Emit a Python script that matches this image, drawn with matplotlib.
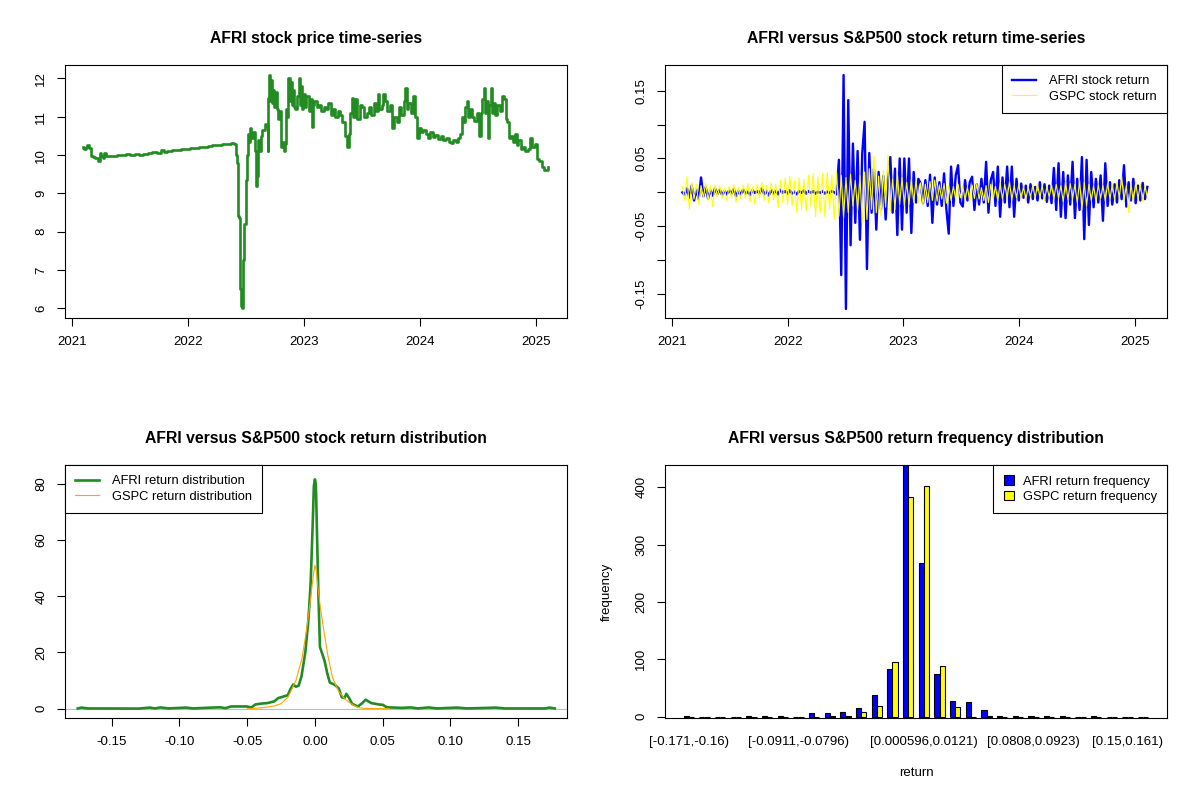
import numpy as np
import matplotlib
matplotlib.use("Agg")
import matplotlib.pyplot as plt

plt.rcParams['font.family'] = ['Liberation Sans', 'DejaVu Sans']

# AFRI closing price (decimal year, price)
price_t = [2021.09, 2021.10, 2021.11, 2021.12, 2021.14, 2021.15, 2021.17, 2021.19, 2021.21, 2021.23,
           2021.24, 2021.26, 2021.27, 2021.28, 2021.30, 2021.33, 2021.37, 2021.41, 2021.44, 2021.48,
           2021.52, 2021.56, 2021.59, 2021.63, 2021.67, 2021.71, 2021.75, 2021.78, 2021.80, 2021.84,
           2021.88, 2021.92, 2021.96, 2022.00, 2022.04, 2022.08, 2022.11, 2022.15, 2022.19, 2022.23,
           2022.27, 2022.31, 2022.35, 2022.39, 2022.41, 2022.42, 2022.425, 2022.43, 2022.44, 2022.45,
           2022.46, 2022.47, 2022.48, 2022.49, 2022.50, 2022.51, 2022.52, 2022.53, 2022.54, 2022.55,
           2022.57, 2022.58, 2022.59, 2022.60, 2022.61, 2022.62, 2022.63, 2022.65, 2022.67, 2022.68,
           2022.69, 2022.695, 2022.70, 2022.71, 2022.72, 2022.73, 2022.74, 2022.75, 2022.76, 2022.77,
           2022.78, 2022.79, 2022.80, 2022.81, 2022.82, 2022.83, 2022.84, 2022.85, 2022.86, 2022.87,
           2022.88, 2022.89, 2022.90, 2022.91, 2022.92, 2022.93, 2022.95, 2022.96, 2022.97, 2022.98,
           2022.99, 2023.00, 2023.01, 2023.03, 2023.05, 2023.06, 2023.07, 2023.08, 2023.10, 2023.12,
           2023.14, 2023.16, 2023.18, 2023.20, 2023.22, 2023.24, 2023.26, 2023.28, 2023.30, 2023.32,
           2023.34, 2023.36, 2023.38, 2023.39, 2023.40, 2023.42, 2023.43, 2023.45, 2023.47, 2023.49,
           2023.51, 2023.53, 2023.55, 2023.57, 2023.59, 2023.61, 2023.63, 2023.64, 2023.66, 2023.68,
           2023.69, 2023.71, 2023.73, 2023.75, 2023.77, 2023.79, 2023.81, 2023.83, 2023.85, 2023.87,
           2023.88, 2023.89, 2023.91, 2023.93, 2023.95, 2023.97, 2023.98, 2024.00, 2024.02, 2024.04,
           2024.06, 2024.08, 2024.10, 2024.12, 2024.14, 2024.17, 2024.19, 2024.21, 2024.24, 2024.26,
           2024.28, 2024.30, 2024.32, 2024.34, 2024.36, 2024.37, 2024.38, 2024.40, 2024.41, 2024.42,
           2024.44, 2024.46, 2024.48, 2024.50, 2024.52, 2024.53, 2024.55, 2024.56, 2024.57, 2024.58,
           2024.59, 2024.60, 2024.62, 2024.63, 2024.64, 2024.66, 2024.68, 2024.70, 2024.72, 2024.73,
           2024.75, 2024.76, 2024.78, 2024.79, 2024.81, 2024.83, 2024.84, 2024.86, 2024.88, 2024.90,
           2024.92, 2024.94, 2024.96, 2024.98, 2025.00, 2025.02, 2025.04, 2025.06, 2025.08, 2025.10,
           2025.11]
price_v = [10.22, 10.18, 10.15, 10.22, 10.25, 10.18, 9.97, 9.95, 9.93, 9.85,
           10.05, 9.98, 9.93, 10.05, 9.98, 9.97, 9.98, 10.00, 9.99, 10.02,
           10.00, 10.03, 10.01, 10.04, 10.05, 10.07, 10.06, 10.12, 10.09, 10.11,
           10.12, 10.14, 10.15, 10.16, 10.18, 10.19, 10.21, 10.22, 10.24, 10.25,
           10.26, 10.29, 10.30, 10.31, 10.30, 10.00, 9.80, 8.40, 8.35, 6.50,
           6.05, 6.00, 7.25, 8.20, 9.35, 10.00, 10.55, 10.35, 10.70, 10.45,
           10.60, 10.10, 9.20, 9.45, 10.40, 10.10, 10.50, 10.65, 10.80, 10.75,
           10.10, 11.50, 12.10, 11.40, 11.95, 11.35, 11.70, 11.25, 11.65, 11.20,
           10.95, 11.00, 11.15, 10.20, 10.35, 10.10, 10.30, 11.20, 11.00, 12.00,
           11.40, 11.90, 11.30, 11.70, 11.25, 11.20, 11.55, 12.00, 11.30, 11.80,
           11.20, 11.60, 11.25, 11.55, 11.15, 11.45, 10.72, 11.30, 11.40, 11.25,
           11.30, 11.15, 11.25, 11.20, 11.35, 11.05, 11.20, 11.00, 11.15, 11.05,
           10.85, 10.50, 10.20, 10.55, 11.10, 11.50, 11.00, 11.45, 10.95, 11.30,
           11.25, 11.00, 11.10, 11.25, 11.05, 11.35, 11.15, 11.60, 11.20, 11.30,
           11.60, 11.40, 11.15, 11.30, 10.70, 11.00, 10.85, 11.25, 11.05, 11.40,
           11.75, 11.20, 11.35, 11.10, 11.55, 11.00, 10.45, 10.70, 10.60, 10.65,
           10.55, 10.45, 10.60, 10.48, 10.52, 10.42, 10.50, 10.40, 10.45, 10.35,
           10.32, 10.40, 10.33, 10.45, 10.55, 11.00, 10.85, 11.25, 11.40, 11.00,
           11.20, 11.00, 10.90, 11.10, 10.50, 11.10, 11.45, 11.75, 11.10, 11.40,
           10.45, 11.30, 11.75, 11.10, 11.35, 11.05, 11.30, 11.15, 11.55, 11.45,
           10.95, 10.85, 10.45, 10.50, 10.35, 10.55, 10.25, 10.40, 10.15, 10.20,
           10.10, 10.15, 10.45, 10.20, 10.30, 9.90, 9.85, 9.70, 9.62, 9.62,
           9.68]

# returns sampled evenly between these two dates
ret_start, ret_end = 2021.09, 2025.11
afri_ret = [0.000, -0.004, 0.006, -0.008, 0.010, -0.012, 0.004, -0.010, 0.022, -0.006,
            0.008, -0.009, 0.003, -0.005, 0.006, -0.003, 0.004, -0.004, 0.002, -0.003,
            0.003, -0.002, 0.005, -0.006, 0.002, -0.003, 0.004, -0.002, 0.001, -0.004,
            0.003, -0.001, 0.002, -0.002, 0.006, -0.003, 0.002, -0.005, 0.003, -0.002,
            0.002, -0.003, 0.004, -0.001, 0.002, -0.002, 0.003, -0.002, 0.001, -0.003,
            0.002, -0.001, 0.003, -0.002, 0.002, -0.001, 0.002, -0.002, 0.001, -0.001,
            0.002, -0.002, 0.001, -0.001, 0.002, 0.000, -0.003, 0.048, -0.122, 0.173,
            -0.172, 0.136, -0.078, 0.072, -0.045, 0.061, -0.070, 0.058, 0.104, -0.113,
            0.058, -0.030, 0.035, -0.055, 0.030, -0.025, 0.024, -0.040, 0.020, 0.052,
            -0.030, 0.035, -0.063, 0.050, -0.055, 0.050, -0.030, 0.050, -0.060, 0.030,
            -0.015, 0.020, 0.013, -0.016, 0.018, -0.020, 0.026, -0.045, 0.022, -0.018,
            0.015, -0.020, 0.028, -0.025, -0.061, 0.038, -0.020, 0.025, 0.040, -0.015,
            -0.021, 0.018, -0.012, 0.015, 0.023, -0.026, 0.012, -0.018, 0.020, -0.015,
            0.045, -0.030, 0.018, 0.030, -0.020, 0.038, -0.036, 0.022, -0.015, 0.038,
            -0.022, 0.038, -0.036, 0.020, -0.012, 0.013, -0.008, 0.010, -0.015, 0.012,
            -0.010, 0.008, -0.012, 0.015, -0.009, 0.012, -0.014, 0.010, -0.016, 0.036,
            -0.026, 0.043, -0.036, 0.030, -0.038, 0.025, -0.018, 0.045, -0.038, 0.020,
            -0.026, 0.052, -0.069, 0.048, -0.048, 0.030, -0.022, 0.020, -0.015, 0.025,
            -0.042, 0.043, -0.020, 0.015, -0.018, 0.012, -0.015, 0.018, -0.010, 0.040,
            -0.021, 0.015, -0.012, 0.020, -0.016, 0.010, -0.012, 0.014, -0.010, 0.008]
gspc_ret = [0.008, -0.012, 0.023, -0.025, 0.015, -0.010, 0.012, -0.018, 0.010, -0.008,
            0.014, -0.012, 0.009, -0.021, 0.011, -0.007, 0.010, -0.009, 0.006, -0.012,
            0.009, -0.008, 0.012, -0.015, 0.007, -0.010, 0.011, -0.009, 0.013, -0.014,
            0.008, -0.017, 0.012, -0.008, 0.015, -0.012, 0.010, -0.016, 0.014, -0.011,
            0.012, -0.023, 0.018, -0.015, 0.021, -0.018, 0.024, -0.020, 0.017, -0.030,
            0.022, -0.025, 0.019, -0.028, 0.025, -0.021, 0.028, -0.036, 0.023, -0.030,
            0.028, -0.036, 0.030, -0.025, 0.026, -0.040, 0.030, -0.035, 0.025, -0.038,
            0.022, -0.030, 0.027, -0.020, 0.018, -0.028, 0.025, -0.045, 0.030, -0.040,
            0.035, -0.025, 0.054, -0.030, 0.024, -0.035, 0.033, -0.022, 0.055, -0.028,
            0.020, -0.025, 0.030, -0.018, 0.022, -0.020, 0.015, -0.018, 0.020, -0.015,
            0.018, -0.016, 0.014, -0.019, 0.012, -0.015, 0.016, -0.012, 0.018, -0.013,
            0.011, -0.010, 0.013, -0.016, 0.010, -0.012, 0.009, -0.011, 0.012, -0.008,
            0.010, -0.012, 0.008, -0.014, 0.011, -0.009, 0.013, -0.010, 0.007, -0.012,
            0.010, -0.015, 0.012, -0.011, 0.009, -0.013, 0.014, -0.010, 0.012, -0.009,
            0.016, -0.012, 0.010, -0.008, 0.012, -0.010, 0.009, -0.011, 0.008, -0.007,
            0.011, -0.009, 0.013, -0.008, 0.010, -0.012, 0.009, -0.007, 0.011, -0.010,
            0.012, -0.009, 0.010, -0.014, 0.016, -0.011, 0.013, -0.010, 0.012, -0.016,
            0.018, -0.026, 0.015, -0.020, 0.012, -0.012, 0.010, -0.014, 0.011, -0.009,
            0.010, -0.013, 0.014, -0.010, 0.012, -0.011, 0.015, -0.009, 0.024, -0.012,
            0.010, -0.030, 0.013, -0.015, 0.016, -0.010, 0.012, -0.014, 0.010, -0.008]

# kernel density estimates
dens_x_afri = [-0.175, -0.172, -0.168, -0.130, -0.122, -0.118, -0.114, -0.108, -0.095, -0.090,
               -0.076, -0.070, -0.066, -0.062, -0.050, -0.047, -0.044, -0.040, -0.035, -0.030,
               -0.027, -0.024, -0.020, -0.018, -0.016, -0.014, -0.012, -0.0099, -0.0071, -0.0051,
               -0.0042, -0.0031, -0.0014, -0.0008, 0.0, 0.0006, 0.0009, 0.0014, 0.0025, 0.0037,
               0.0054, 0.0071, 0.0091, 0.011, 0.0147, 0.0176, 0.0198, 0.0218, 0.0232, 0.0252,
               0.0275, 0.0317, 0.0345, 0.0374, 0.0416, 0.0473, 0.0501, 0.053, 0.064, 0.071,
               0.076, 0.084, 0.090, 0.100, 0.105, 0.112, 0.128, 0.133, 0.140, 0.170,
               0.173, 0.177]
dens_y_afri = [0.1, 0.4, 0.1, 0.05, 0.4, 0.1, 0.45, 0.1, 0.4, 0.1,
               0.4, 0.5, 0.2, 0.8, 0.8, 0.4, 1.5, 1.8, 2.0, 2.6,
               3.8, 4.2, 4.8, 7.0, 8.6, 7.8, 8.2, 11.5, 20.0, 30.0,
               36.0, 45.0, 69.0, 79.0, 81.5, 80.0, 76.0, 65.0, 42.0, 22.0,
               19.5, 17.0, 12.6, 9.3, 8.5, 7.2, 4.1, 3.8, 5.3, 3.8,
               1.7, 0.8, 1.8, 3.2, 2.0, 1.5, 1.4, 0.5, 0.3, 0.45,
               0.1, 0.45, 0.1, 0.3, 0.4, 0.1, 0.3, 0.4, 0.1, 0.1,
               0.4, 0.1]
dens_x_gspc = [-0.050, -0.045, -0.040, -0.035, -0.030, -0.025, -0.020, -0.018, -0.014, -0.0095,
               -0.0065, -0.0045, -0.0025, -0.001, 0.0, 0.001, 0.002, 0.004, 0.0065, 0.0095,
               0.013, 0.0175, 0.022, 0.026, 0.030, 0.033, 0.037, 0.045, 0.055]
dens_y_gspc = [0.0, 0.1, 0.3, 0.6, 1.0, 1.8, 4.0, 6.0, 10.0, 18.0,
               27.0, 34.0, 42.0, 48.0, 51.0, 49.0, 44.0, 36.0, 28.0, 19.0,
               11.0, 6.2, 3.5, 2.0, 0.9, 0.3, 0.1, 0.03, 0.0]

# return frequency table, 30 bins from -0.171 to 0.173
afri_freq = [2, 0, 0, 0, 2, 2, 2, 0, 6, 6, 8, 16, 37, 83, 439,
             268, 75, 28, 26, 12, 2, 2, 2, 2, 2, 0, 2, 0, 0, 0]
gspc_freq = [0, 0, 0, 0, 0, 0, 0, 0, 0, 1, 1, 8, 18, 95, 384,
             403, 89, 17, 0, 2, 0, 0, 0, 0, 0, 0, 0, 0, 0, 0]
bin_label_idx = [0, 7, 15, 22, 28]
bin_labels = ["[-0.171,-0.16)", "[-0.0911,-0.0796)", "[0.000596,0.0121)",
              "[0.0808,0.0923)", "[0.15,0.161)"]

FS = 9.5
LFS = 9.3


def r_style(ax):
    for s in ax.spines.values():
        s.set_linewidth(0.8)
    ax.tick_params(direction='out', length=5.8, width=0.8, labelsize=FS, pad=7)
    ax.tick_params(axis='y', labelrotation=90)
    plt.setp(ax.get_yticklabels(), va='center')


def r_legend(ax, loc, **kw):
    leg = ax.legend(loc=loc, borderaxespad=0, fancybox=False, edgecolor='black',
                    framealpha=1, fontsize=LFS, borderpad=0.8, labelspacing=0.25, **kw)
    leg.get_frame().set_linewidth(0.8)
    return leg


fig = plt.figure(figsize=(12, 8), dpi=100)
W, H = 502 / 1200, 253 / 800
ax1 = fig.add_axes([65 / 1200, 1 - 318 / 800, W, H])
ax2 = fig.add_axes([665 / 1200, 1 - 318 / 800, W, H])
ax3 = fig.add_axes([65 / 1200, 1 - 718 / 800, W, H])
ax4 = fig.add_axes([665 / 1200, 1 - 718 / 800, W, H])

years = [2021, 2022, 2023, 2024, 2025]
TFS = 11.3

# price
ax1.plot(price_t, price_v, color='forestgreen', lw=1.9, drawstyle='steps-mid')
ax1.set_xlim(2020.937, 2025.27)
ax1.set_ylim(5.75, 12.35)
ax1.set_xticks(years)
ax1.set_yticks(range(6, 13))
r_style(ax1)
ax1.set_title("AFRI stock price time-series", fontweight='bold', fontsize=TFS, pad=16)

# returns
ret_t = np.linspace(ret_start, ret_end, len(afri_ret))
ax2.plot(ret_t, afri_ret, color='blue', lw=1.7, label='AFRI stock return')
ax2.plot(ret_t, gspc_ret, color='yellow', lw=0.8, label='GSPC stock return')
ax2.set_xlim(2020.94, 2025.28)
ax2.set_ylim(-0.1853, 0.1878)
ax2.set_xticks(years)
yt = [-0.15, -0.10, -0.05, 0.0, 0.05, 0.10, 0.15]
ax2.set_yticks(yt)
ax2.set_yticklabels(["-0.15", "", "-0.05", "", "0.05", "", "0.15"])
r_style(ax2)
r_legend(ax2, 'upper right', handlelength=1.85, handletextpad=1.0)
ax2.set_title("AFRI versus S&P500 stock return time-series", fontweight='bold', fontsize=TFS, pad=16)

# densities
ax3.axhline(0, color='#BEBEBE', lw=0.8)
ax3.plot(dens_x_afri, dens_y_afri, color='forestgreen', lw=1.9, label='AFRI return distribution')
ax3.plot(dens_x_gspc, dens_y_gspc, color='orange', lw=0.8, label='GSPC return distribution')
ax3.set_xlim(-0.1844, 0.186)
ax3.set_ylim(-3.3, 86.6)
xt = [-0.15, -0.10, -0.05, 0.0, 0.05, 0.10, 0.15]
ax3.set_xticks(xt)
ax3.set_xticklabels(["%.2f" % v for v in xt])
ax3.set_yticks([0, 20, 40, 60, 80])
r_style(ax3)
r_legend(ax3, 'upper left', handlelength=1.85, handletextpad=1.0)
ax3.set_title("AFRI versus S&P500 stock return distribution", fontweight='bold', fontsize=TFS, pad=16)

# frequency bars
grp = np.arange(len(afri_freq))
ax4.bar(1.5 + 3 * grp, afri_freq, width=1, color='blue', edgecolor='black', lw=0.8,
        label='AFRI return frequency')
ax4.bar(2.5 + 3 * grp, gspc_freq, width=1, color='yellow', edgecolor='black', lw=0.8,
        label='GSPC return frequency')
ax4.set_xlim(-2.56, 93.56)
ax4.set_ylim(-2.3, 439)
ax4.set_yticks([0, 100, 200, 300, 400])
ax4.set_xticks([2 + 3 * i for i in bin_label_idx])
ax4.set_xticklabels(bin_labels)
r_style(ax4)
ax4.tick_params(axis='x', length=0, pad=13)
ax4.set_xlabel("return", fontsize=FS, labelpad=14)
ax4.set_ylabel("frequency", fontsize=FS, labelpad=16)
r_legend(ax4, 'upper right', handlelength=0.75, handleheight=0.75, handletextpad=0.7)
ax4.set_title("AFRI versus S&P500 return frequency distribution", fontweight='bold', fontsize=TFS, pad=16)

fig.savefig("out.png", dpi=100)
